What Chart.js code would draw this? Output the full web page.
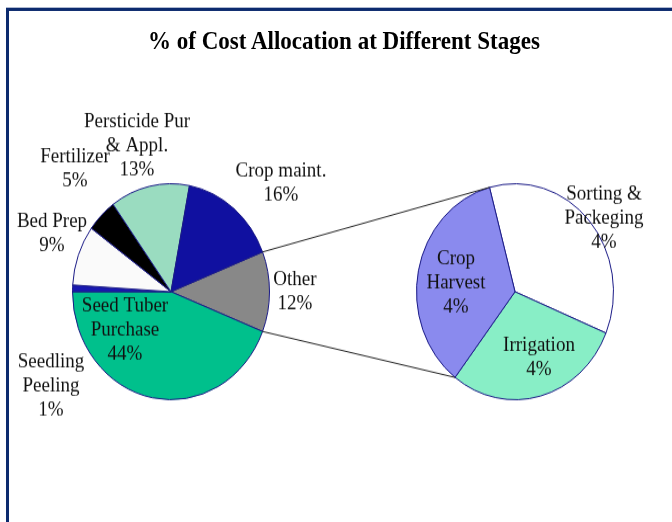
<!DOCTYPE html>
<html>
<head>
<meta charset="utf-8">
<script src="https://cdn.jsdelivr.net/npm/chart.js@4.4.1/dist/chart.umd.min.js"></script>
<style>
	html, body { margin: 0; padding: 0; background: #fff; }
	body { width: 672px; height: 522px; overflow: hidden; }
	/* the original picture is stretched vertically, so draw at 476 high and scale up */
	#wrap {
		position: relative; width: 672px; height: 476px; overflow: hidden;
		transform: scaleY(1.0966); transform-origin: 0 0;
	}
	#frame {
		position: absolute; left: 6px; top: 7px; width: 700px; height: 520px;
		border: 3px solid #0c2a6e; box-sizing: border-box;
	}
	#title {
		position: absolute; left: 0; top: 25px; width: 688px; text-align: center;
		font: bold 23px "Liberation Serif", "Times New Roman", serif; color: #000;
	}
	canvas { position: absolute; left: 0; top: 0; }
</style>
</head>
<body>
<div id="wrap">
	<div id="frame"></div>
	<div id="title">% of Cost Allocation at Different Stages</div>
	<canvas id="chart__pie--main" width="672" height="476"></canvas>
	<canvas id="chart__pie--split" width="672" height="476"></canvas>
</div>
<script>
// Main pie, clockwise from the "Other" slice (which is split out)
const mainLabels = [["Other"], ["Seed Tuber", "Purchase"], ["Seedling", "Peeling"], ["Bed Prep"], ["Fertilizer"], ["Persticide Pur", "& Appl."], ["Crop maint."]];
const mainValues = [12, 44, 1, 9, 5, 13, 16];
const mainPercents = ["12%", "44%", "1%", "9%", "5%", "13%", "16%"];

// Second pie, the breakdown of "Other"
const splitLabels = [["Sorting &", "Packeging"], ["Irrigation"], ["Crop", "Harvest"]];
const splitValues = [4.25, 3.5, 4.25];
const splitPercents = ["4%", "4%", "4%"];

const mainColors = ["#888888", "#00c08c", "#1818b0", "#fafafa", "#000000", "#9adcc0", "#1010a0"];
const splitColors = ["#ffffff", "#88eec6", "#8a8aee"];
const edgeColor = "#1a1a86";

// label block offsets from pie centre (px)
const mainLabelPos = [[124, 0], [-46, 35], [-120, 86], [-119, -53], [-96, -112], [-34, -133], [110, -99]];
const splitLabelPos = [[89, -67], [24, 60], [-59, -8]];

const FONT = '19px "Liberation Serif", "Times New Roman", serif';
const LINE_H = 22;

let mainChart = null;

// Draw multi-line labels next to each slice
const labelsPlugin = (names, percents, offsets) => ({
	id: "sliceLabels",
	afterDraw: (chart) => {
		const ctx = chart.ctx;
		const meta = chart.getDatasetMeta(0);
		const cx = meta.data[0].x;
		const cy = meta.data[0].y;
		ctx.save();
		ctx.font = FONT;
		ctx.fillStyle = "#111";
		ctx.textAlign = "center";
		ctx.textBaseline = "middle";
		names.forEach((lines, i) => {
			const all = lines.concat([percents[i]]);
			const x = cx + offsets[i][0];
			const y0 = cy + offsets[i][1] - ((all.length - 1) * LINE_H) / 2;
			all.forEach((t, k) => ctx.fillText(t, x, y0 + k * LINE_H));
		});
		ctx.restore();
	},
});

// Connector lines from the split slice to the second pie
const connectorPlugin = () => ({
	id: "connectors",
	afterDraw: (chart) => {
		if (!mainChart) return;
		const src = mainChart.getDatasetMeta(0).data[0];
		const dst = chart.getDatasetMeta(0).data[2];
		const pt = (el, a) => [el.x + Math.cos(a) * el.outerRadius, el.y + Math.sin(a) * el.outerRadius];
		const ctx = chart.ctx;
		ctx.save();
		ctx.strokeStyle = "#222";
		ctx.lineWidth = 1;
		[[src.startAngle, dst.endAngle], [src.endAngle, dst.startAngle]].forEach(([a, b]) => {
			const p = pt(src, a);
			const q = pt(dst, b);
			ctx.beginPath();
			ctx.moveTo(p[0], p[1]);
			ctx.lineTo(q[0], q[1]);
			ctx.stroke();
		});
		ctx.restore();
	},
});

const pieOptions = (rotation, padding) => ({
	responsive: false,
	animation: false,
	rotation,
	layout: { padding },
	plugins: {
		legend: { display: false },
		tooltip: { enabled: false },
	},
});

const createChart = (id, labels, values, colors, options, plugins) => {
	// eslint-disable-next-line no-undef
	return new Chart(document.getElementById(id), {
		type: "pie",
		data: {
			labels: labels.map((l) => l.join(" ")),
			datasets: [{
				data: values,
				backgroundColor: colors,
				borderColor: edgeColor,
				borderWidth: 1,
			}],
		},
		options,
		plugins,
	});
};

mainChart = createChart("chart__pie--main", mainLabels, mainValues, mainColors,
	pieOptions(68.4, { left: 72, right: 402, top: 167, bottom: 111 }),
	[labelsPlugin(mainLabels, mainPercents, mainLabelPos)]);

createChart("chart__pie--split", splitLabels, splitValues, splitColors,
	pieOptions(-15, { left: 416, right: 58, top: 167, bottom: 111 }),
	[labelsPlugin(splitLabels, splitPercents, splitLabelPos), connectorPlugin()]);
</script>
</body>
</html>
